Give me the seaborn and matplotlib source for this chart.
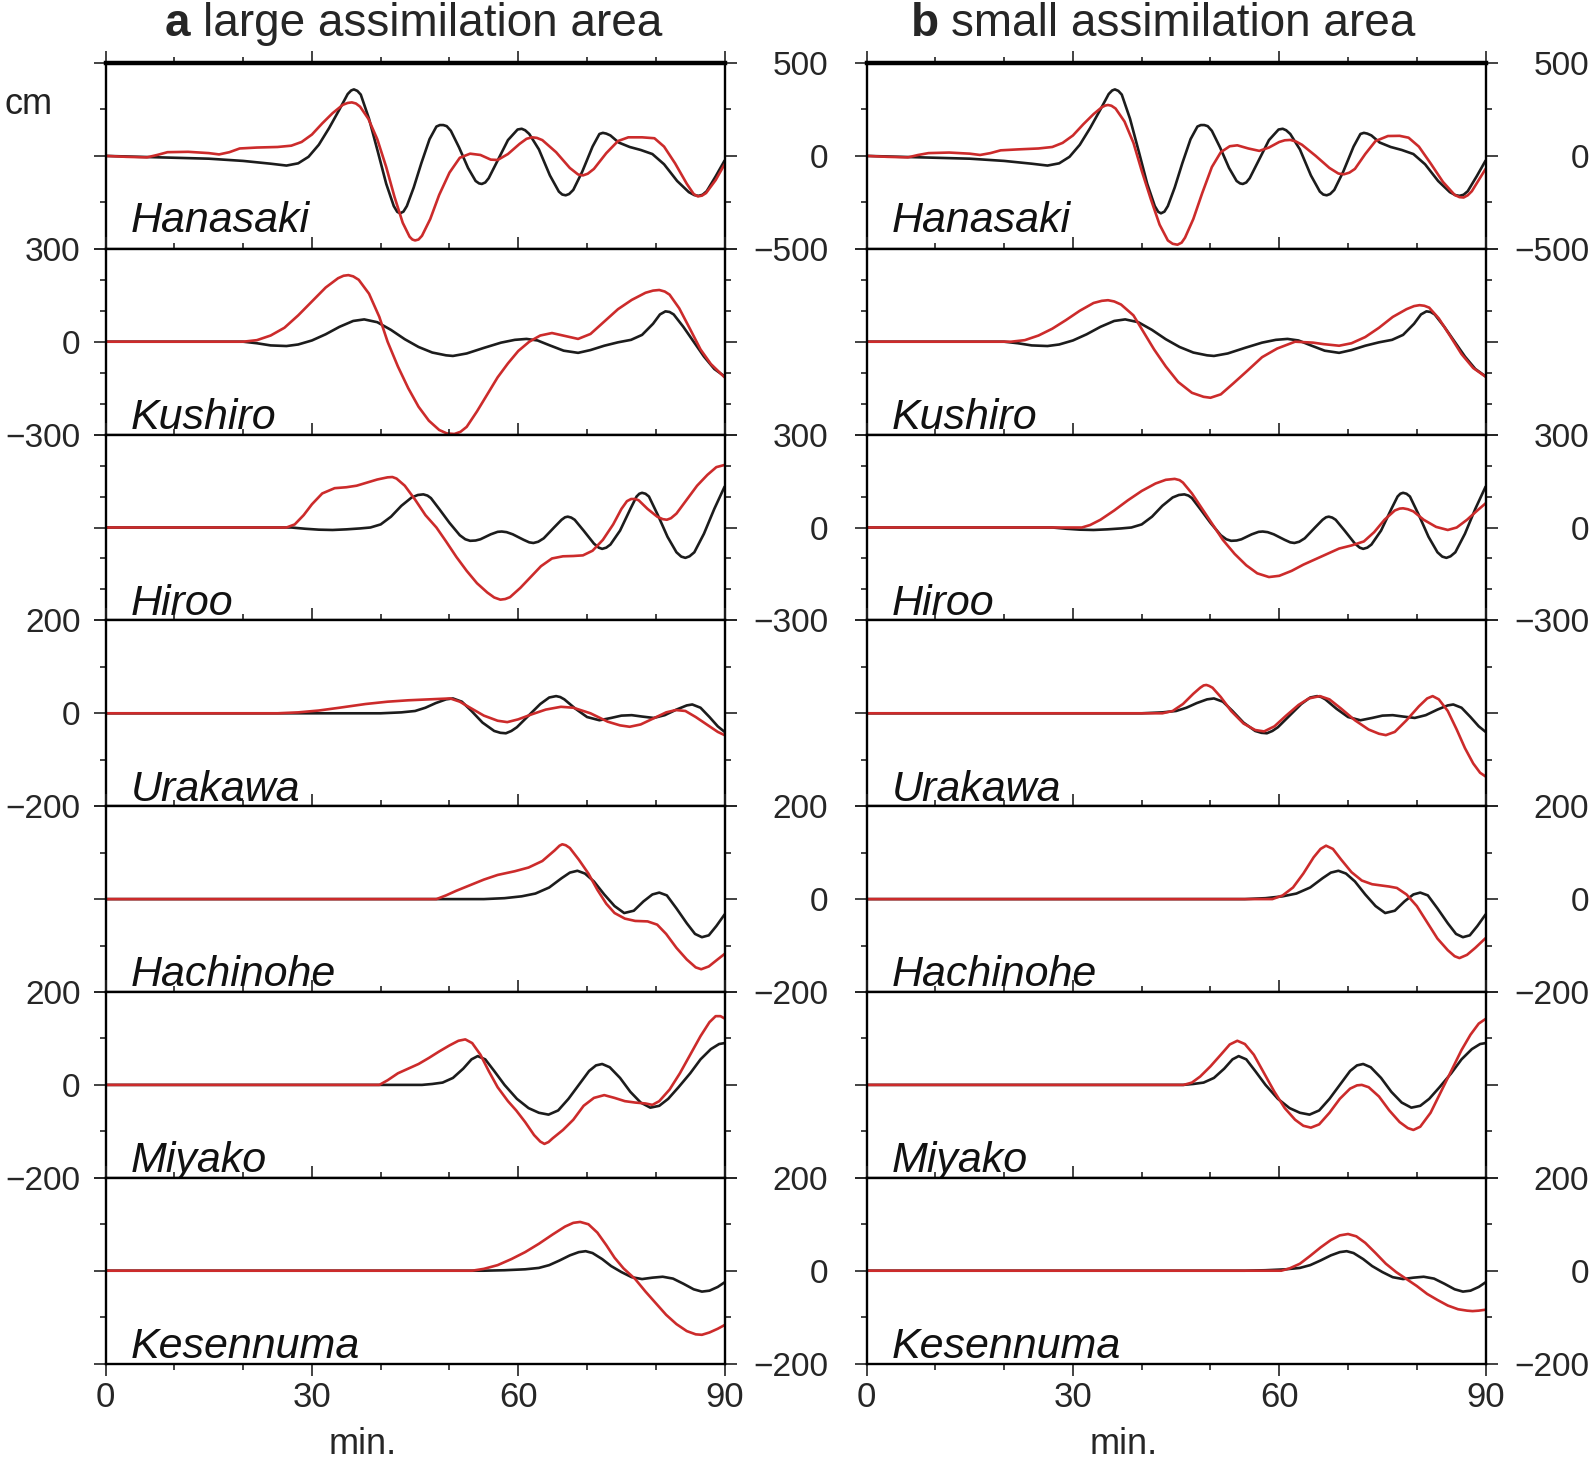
import numpy as np
import pandas as pd
import matplotlib
matplotlib.use("Agg")
import matplotlib.pyplot as plt
from matplotlib.ticker import FixedLocator
import seaborn as sns

# tide gauge stations, top to bottom
stations = ["Hanasaki", "Kushiro", "Hiroo", "Urakawa", "Hachinohe", "Miyako", "Kesennuma"]
y_range = [500, 300, 300, 200, 200, 200, 200]
y_minor = [[-250, 250], [-200, -100, 100, 200], [-200, -100, 100, 200],
           [-100, 100], [-100, 100], [-100, 100], [-100, 100]]
panel_titles = [("a", "large assimilation area"), ("b", "small assimilation area")]
x_major = [0, 30, 60, 90]
x_minor = [10, 20, 40, 50, 70, 80]

# (minutes, cm); obs = black, large/small = red
hanasaki_obs = [(0, 0), (5, -5), (10, -10), (15, -15), (20, -27), (24, -42), (26.3, -52), (28, -40), (29.5, -5),
                (31, 60), (32.5, 150), (34, 250), (35.2, 333), (35.7, 352), (36.1, 358), (36.6, 350),
                (37.1, 330), (38.3, 200), (39.6, 20), (40.8, -150), (41.9, -270), (42.4, -301), (42.8, -309),
                (43.3, -300), (43.8, -270), (44.8, -170), (45.9, -40), (47.1, 90), (48.1, 158), (48.6, 166),
                (49.1, 166), (49.6, 160), (50.2, 135), (51.4, 45), (52.7, -65), (53.8, -135), (54.3, -148),
                (54.7, -151), (55.2, -143), (55.7, -120), (57, -25), (58.5, 85), (59.9, 142), (60.5, 146),
                (61, 138), (61.6, 118), (63, 35), (64.6, -105), (65.9, -192), (66.4, -208), (66.9, -212),
                (67.4, -205), (68, -183), (69.3, -85), (70.8, 50), (71.8, 118), (72.3, 124), (72.8, 120),
                (73.4, 110), (74.6, 72), (76.2, 48), (77.8, 32), (79.5, 10), (81.2, -45), (83.1, -135),
                (84.8, -195), (85.6, -211), (86.2, -215), (86.8, -209), (87.4, -190), (88.7, -110), (90, -25)]
hanasaki_large = [(0, 0), (3, -5), (6, -8), (7.5, 5), (9, 20), (12, 22), (15, 15), (16.5, 8), (18, 20),
                  (19.5, 40), (22, 45), (25, 48), (27, 55), (28.5, 75), (30, 115), (31.5, 175), (33, 230),
                  (34.5, 275), (35.2, 285), (35.8, 288), (36.4, 282), (37, 265), (38.2, 200), (39.5, 90),
                  (40.8, -60), (42, -220), (43.2, -360), (44.2, -435), (44.6, -450), (45, -455), (45.5, -450),
                  (46, -430), (47.2, -340), (48.5, -210), (50, -90), (51.5, -10), (53, 12), (54.5, 5), (56, -20),
                  (57, -22), (58.5, 10), (60.2, 65), (61.2, 92), (62, 100), (62.7, 97), (63.5, 85), (65.5, 20),
                  (67.5, -65), (68.7, -100), (69.4, -105), (70.1, -96), (71, -70), (72.8, 15), (74.5, 80),
                  (76, 100), (78, 100), (79.8, 95), (81.2, 50), (82.8, -40), (84.5, -150), (85.5, -205),
                  (86.1, -218), (86.7, -214), (87.3, -200), (88.7, -130), (90, -45)]
hanasaki_small = [(0, 0), (3, -5), (6, -8), (7.5, 5), (9, 15), (12, 18), (15, 12), (16.5, 5), (18, 15),
                  (19.5, 30), (22, 35), (25, 40), (27, 48), (28.5, 70), (30, 110), (31.5, 170), (33, 225),
                  (34.2, 262), (34.7, 271), (35.1, 274), (35.6, 270), (36.2, 255), (37.5, 185), (38.8, 70),
                  (40, -80), (41.3, -230), (42.6, -370), (43.8, -455), (44.5, -473), (45.2, -478),
                  (45.8, -467), (46.3, -440), (47.5, -340), (48.8, -200), (50.2, -60), (51.5, 20), (52.8, 52),
                  (53.9, 57), (55.5, 40), (57.1, 27), (58.5, 45), (60, 75), (60.8, 84), (61.6, 86), (62.4, 78),
                  (63.3, 60), (65.3, 0), (67.3, -65), (68.6, -95), (69.4, -99), (70.2, -90), (71, -70),
                  (72.5, 10), (74, 80), (75.8, 107), (77.5, 108), (78.8, 98), (80.3, 50), (82, -40),
                  (83.8, -140), (85.5, -210), (86.2, -222), (86.8, -224), (87.4, -212), (88, -190),
                  (89, -130), (90, -70)]

kushiro_obs = [(0, 0), (20, 0), (22, -5), (24, -12), (26.3, -14), (28, -9), (30, 4), (32, 24), (34, 48),
               (36, 67), (37.6, 72), (39.5, 63), (41.5, 38), (43.5, 8), (45.5, -17), (47.5, -35), (49.5, -44),
               (50.5, -46), (52.5, -38), (55, -20), (57.5, -3), (59.5, 6), (61.2, 9), (62.8, 4), (64.6, -12),
               (66.6, -29), (68.7, -36), (70.5, -27), (72.5, -13), (74.5, -2), (76.4, 6), (78, 22),
               (79.6, 58), (80.6, 88), (81.4, 98), (82, 96), (82.6, 88), (84, 48), (85.5, 0), (87, -48),
               (88.5, -88), (90, -112)]
kushiro_large = [(0, 0), (20, 0), (22, 5), (24, 20), (26, 45), (28, 85), (30, 130), (32, 175), (33.8, 205),
                 (34.6, 213), (35.3, 215), (36, 211), (36.8, 200), (38.3, 155), (39.8, 80), (41, 0),
                 (42.5, -80), (44, -150), (45.5, -210), (47, -255), (48.5, -285), (49.6, -296), (50.7, -298),
                 (51.6, -291), (52.5, -275), (54, -225), (55.5, -170), (57, -115), (58.5, -70), (60, -30),
                 (61.6, 0), (63.2, 20), (64.9, 28), (66.5, 20), (68.7, 9), (70.5, 25), (72.5, 65), (74.5, 105),
                 (76.5, 135), (78.5, 158), (79.6, 165), (80.5, 167), (81.3, 162), (82, 152), (83.4, 108),
                 (85, 40), (86.5, -25), (88, -72), (90, -115)]
kushiro_small = [(0, 0), (21, 0), (23, 5), (25, 20), (27, 42), (29, 70), (31, 100), (33, 125), (34.2, 132),
                 (35.1, 134), (36, 130), (37, 120), (38.8, 85), (40.3, 30), (41.8, -25), (43.5, -80),
                 (45.3, -130), (47.3, -165), (49, -178), (50, -181), (51.5, -170), (53.3, -135), (55.3, -95),
                 (57.5, -50), (59.7, -22), (62.3, 0), (64.9, -3), (66.5, -8), (68.7, -13), (70.5, -5),
                 (72.5, 15), (74.5, 45), (76.5, 80), (78.5, 105), (79.6, 115), (80.4, 118), (81.1, 116),
                 (81.8, 110), (83.2, 75), (84.8, 20), (86.5, -40), (88.2, -85), (90, -113)]

hiroo_obs = [(0, 0), (27, 0), (29, -4), (31, -7), (33, -8), (35, -6), (37, -3), (38.5, 0), (40, 10),
             (41.5, 35), (43, 70), (44.5, 97), (45.4, 105), (46.2, 107), (46.8, 103), (47.3, 95), (48.5, 60),
             (50, 15), (51.5, -25), (52.3, -38), (53, -43), (53.8, -42), (54.5, -38), (56, -22), (57, -14),
             (57.6, -13), (58.3, -15), (59.2, -22), (60.8, -40), (61.6, -48), (62.2, -50), (62.9, -46),
             (63.7, -35), (65.2, 0), (66.3, 25), (66.8, 33), (67.2, 35), (67.7, 32), (68.2, 25), (69.5, -10),
             (71, -52), (71.7, -65), (72.2, -69), (72.8, -65), (73.4, -55), (74.8, -10), (76.3, 60),
             (77.2, 100), (77.6, 109), (78, 112), (78.5, 109), (79, 100), (80.3, 40), (81.7, -30), (83, -80),
             (83.7, -94), (84.3, -98), (84.9, -93), (85.6, -80), (87, -20), (88.5, 60), (90, 132)]
hiroo_large = [(0, 0), (26.3, 0), (27.5, 10), (28.8, 40), (30, 75), (31.5, 110), (33.3, 127), (35, 130),
               (36.5, 135), (38, 145), (39.5, 155), (41, 162), (41.7, 163), (42.3, 158), (43.5, 135), (45, 90),
               (46.5, 40), (48.1, 0), (49.5, -45), (51, -95), (52.5, -140), (54, -180), (55.5, -210),
               (56.5, -226), (57.4, -233), (58.1, -231), (58.8, -225), (60.3, -195), (61.8, -160),
               (63.3, -125), (64.9, -100), (66.5, -93), (68, -92), (69.4, -90), (70.8, -75), (72.3, -40),
               (73.8, 10), (75, 60), (75.8, 85), (76.4, 92), (77, 92), (77.5, 88), (78.8, 60), (80.2, 35),
               (81, 27), (81.6, 25), (82.2, 30), (83, 45), (84.5, 90), (86, 135), (87.5, 170), (88.8, 195),
               (90, 202)]
hiroo_small = [(0, 0), (31.3, 0), (32.5, 8), (34, 25), (36, 55), (38, 88), (40, 118), (42, 142), (43.5, 154),
               (44.8, 157), (45.5, 153), (46, 145), (47.3, 110), (48.8, 60), (50.3, 10), (51.8, -40),
               (53.5, -85), (55.2, -122), (56.8, -148), (58.5, -160), (60, -156), (61.8, -140), (63.5, -120),
               (65.5, -100), (67.3, -82), (68.7, -68), (70.5, -58), (72.3, -45), (73.8, -15), (75.3, 25),
               (76.8, 55), (77.5, 61), (78, 62), (78.7, 59), (79.5, 52), (81, 25), (82.8, 2), (84.5, -8),
               (85.8, 0), (87.3, 25), (88.8, 55), (90, 78)]

urakawa_obs = [(0, 0), (40, 0), (43, 2), (45, 5), (46.5, 12), (48, 22), (49.5, 30), (50.5, 32), (51.8, 25),
               (53.2, 5), (54.8, -20), (56.5, -38), (57.4, -42), (58.2, -43), (59, -38), (59.8, -30),
               (61.5, -5), (63.2, 20), (64.5, 34), (65.5, 37), (66.1, 35), (66.7, 30), (68.3, 10), (70, -8),
               (71.8, -15), (73.5, -10), (75, -5), (76.5, -4), (78, -7), (79.7, -10), (81.3, -4), (83, 8),
               (84.5, 17), (85.3, 19), (86.5, 12), (87.8, -8), (89, -28), (90, -40)]
urakawa_large = [(0, 0), (25, 0), (28, 2), (31, 6), (34, 12), (37.8, 20), (41, 25), (44, 28), (47, 30),
                 (50.1, 32), (51.5, 25), (53, 12), (55, -5), (57, -16), (58.4, -19), (60, -13), (62, -2),
                 (64, 8), (66.2, 14), (68, 12), (70.5, 0), (73, -18), (74.8, -26), (76.2, -29), (77.8, -24),
                 (79.8, -10), (81.5, 2), (82.9, 7), (84.3, 5), (85.8, -8), (87.5, -25), (89, -40), (90, -47)]
urakawa_small = [(0, 0), (43, 0), (44.5, 5), (46, 20), (47.5, 42), (48.5, 55), (49, 60), (49.4, 61),
                 (49.8, 59), (50.3, 55), (51.5, 35), (53, 5), (54.8, -22), (56.5, -36), (57.8, -39),
                 (59.3, -28), (61, -5), (62.8, 18), (64.3, 32), (65.9, 37), (67.3, 30), (69, 10), (71, -15),
                 (73, -35), (74.5, -44), (75.5, -47), (76.8, -40), (78.5, -15), (80.3, 15), (81.5, 32),
                 (82.3, 37), (83.2, 30), (84.5, 5), (85.8, -35), (87, -75), (88.2, -108), (89.2, -128),
                 (90, -136)]

hachinohe_obs = [(0, 0), (48, 0), (55, 0), (58, 2), (60.5, 6), (62.5, 12), (64.5, 25), (66.3, 45), (67.5, 57),
                 (68.6, 61), (69.7, 55), (71, 38), (72.5, 10), (74, -15), (75.4, -30), (76.8, -25),
                 (78.2, -5), (79.5, 10), (80.5, 14), (81.6, 8), (83, -20), (84.5, -52), (85.7, -75),
                 (86.7, -82), (87.7, -78), (88.8, -58), (90, -33)]
hachinohe_large = [(0, 0), (48.1, 0), (49.5, 8), (51, 18), (53, 30), (55, 42), (57, 52), (59.5, 60),
                   (61.5, 68), (63.5, 82), (65.3, 105), (66, 115), (66.4, 118), (66.9, 116), (67.5, 110),
                   (68.8, 85), (70.2, 55), (71.5, 20), (72.8, -10), (74, -30), (75.5, -42), (77, -47),
                   (78.8, -48), (80.2, -55), (81.5, -75), (83, -105), (84.5, -130), (85.8, -147), (86.6, -151),
                   (87.7, -145), (88.8, -132), (90, -118)]
hachinohe_small = [(0, 0), (59, 0), (60.5, 8), (62, 25), (63.5, 55), (65, 90), (66, 108), (66.8, 115),
                   (67.8, 108), (69, 85), (70.5, 58), (72, 40), (73.5, 32), (74.5, 30), (76, 27), (77.1, 24),
                   (78.5, 10), (80, -15), (81.5, -50), (83, -85), (84.5, -110), (85.5, -123), (86.2, -127),
                   (87.3, -120), (88.5, -105), (90, -84)]

miyako_obs = [(0, 0), (46, 0), (47.5, 2), (49, 5), (50.5, 15), (52, 35), (53.2, 55), (54.1, 62), (55.2, 55),
              (56.5, 30), (58, 0), (59.8, -30), (61.5, -50), (63, -60), (64.4, -64), (65.8, -55), (67.3, -30),
              (68.8, 0), (70.3, 30), (71.3, 42), (72.2, 45), (73.3, 38), (74.8, 15), (76.3, -15), (77.8, -38),
              (79.2, -49), (80.5, -45), (81.8, -30), (83.3, -5), (85, 25), (86.5, 55), (88, 77), (89.2, 88),
              (90, 90)]
miyako_large = [(0, 0), (39.8, 0), (41, 10), (42.5, 25), (44, 35), (45.5, 45), (47, 58), (48.5, 72), (50, 85),
                (51.3, 95), (52.3, 98), (53.3, 90), (54.5, 65), (55.7, 30), (57, -5), (58.5, -35), (59.7, -55),
                (61, -80), (62.3, -108), (63.2, -122), (63.8, -127), (64.4, -123), (65, -115), (66.5, -97),
                (68, -75), (69.5, -45), (71, -28), (72.5, -22), (74, -28), (75.5, -35), (77, -38), (78.5, -40),
                (79.5, -43), (80.5, -35), (82, -10), (83.5, 25), (85, 65), (86.5, 105), (87.8, 135),
                (88.7, 148), (89.4, 148), (90, 143)]
miyako_small = [(0, 0), (46.1, 0), (47.3, 5), (48.5, 18), (50, 40), (51.5, 65), (52.8, 87), (53.9, 95),
                (55, 88), (56.3, 65), (57.8, 25), (59.3, -15), (60.8, -50), (62.3, -75), (63.5, -88),
                (64.6, -92), (65.8, -85), (67.3, -60), (68.8, -30), (70.3, -8), (71.3, -1), (72, 0), (73, -5),
                (74.5, -25), (76, -55), (77.5, -80), (78.7, -93), (79.5, -97), (80.5, -90), (82, -60),
                (83.5, -15), (85, 30), (86.5, 75), (87.8, 108), (89, 132), (90, 142)]

kesennuma_obs = [(0, 0), (55, 0), (58, 1), (61, 3), (63, 6), (64.5, 12), (66, 22), (67.5, 33), (68.8, 40),
                 (69.8, 42), (70.8, 38), (72.2, 25), (73.5, 10), (75, -3), (76.5, -14), (78, -18), (79.5, -15),
                 (81, -13), (82.5, -17), (84, -28), (85.5, -40), (86.7, -45), (87.8, -43), (89, -35), (90, -25)]
kesennuma_large = [(0, 0), (53.3, 0), (55, 4), (57, 12), (59, 25), (61, 40), (63, 58), (65, 78), (66.8, 95),
                   (68, 103), (69, 105), (70.2, 100), (71.5, 82), (72.8, 55), (74, 28), (75.3, 5), (77, -18),
                   (78.5, -45), (80, -70), (81.5, -95), (83, -115), (84.5, -130), (85.8, -137), (86.7, -138),
                   (87.8, -133), (89, -125), (90, -117)]
kesennuma_small = [(0, 0), (60.3, 0), (61.5, 5), (63, 15), (64.5, 32), (66, 50), (67.5, 66), (68.8, 76),
                   (70, 79), (71.2, 74), (72.5, 60), (74, 38), (75.5, 15), (77, -3), (78.5, -18), (80, -33),
                   (81.5, -50), (83, -63), (84.5, -75), (86, -83), (87.3, -86), (88.1, -87), (89, -86),
                   (90, -84)]

observed = [hanasaki_obs, kushiro_obs, hiroo_obs, urakawa_obs, hachinohe_obs, miyako_obs, kesennuma_obs]
large = [hanasaki_large, kushiro_large, hiroo_large, urakawa_large, hachinohe_large, miyako_large, kesennuma_large]
small = [hanasaki_small, kushiro_small, hiroo_small, urakawa_small, hachinohe_small, miyako_small, kesennuma_small]

sns.set_style("ticks")
plt.rcParams["font.family"] = ["Liberation Sans", "DejaVu Sans"]
plt.rcParams["axes.unicode_minus"] = True
plt.rcParams["lines.solid_joinstyle"] = "round"
plt.rcParams["lines.solid_capstyle"] = "round"

W, H = 1593, 1464
fig = plt.figure(figsize=(W / 100, H / 100), dpi=100)

lefts = [105.6, 866.6]
panel_w = 619.0
top0 = 63.0
panel_h = 185.8
colors = {"obs": "#1c1c1c", "sim": "#cc2b2b"}

for col, sims in enumerate([large, small]):
    for row, name in enumerate(stations):
        ax = fig.add_axes([lefts[col] / W, 1 - (top0 + (row + 1) * panel_h) / H, panel_w / W, panel_h / H])
        df = pd.concat([
            pd.DataFrame(observed[row], columns=["t", "cm"]).assign(kind="obs"),
            pd.DataFrame(sims[row], columns=["t", "cm"]).assign(kind="sim"),
        ])
        sns.lineplot(data=df, x="t", y="cm", hue="kind", palette=colors, estimator=None, sort=False,
                     linewidth=1.9, legend=False, ax=ax)
        r = y_range[row]
        ax.set_xlim(0, 90)
        ax.set_ylim(-r, r)
        ax.set_xlabel("")
        ax.set_ylabel("")

        ax.xaxis.set_major_locator(FixedLocator(x_major))
        ax.xaxis.set_minor_locator(FixedLocator(x_minor))
        ax.yaxis.set_major_locator(FixedLocator([-r, 0, r]))
        ax.yaxis.set_minor_locator(FixedLocator(y_minor[row]))
        ax.tick_params(which="both", direction="out", top=True, bottom=True, left=True, right=True,
                       width=1.2, color="#222222")
        ax.tick_params(which="major", length=8.5)
        ax.tick_params(which="minor", length=4.5)
        ax.tick_params(axis="x", labelbottom=(row == 6), labeltop=False, labelsize=25, pad=4)

        labels_right = row % 2 == 0
        labels_left = (not labels_right) and col == 0
        ax.tick_params(axis="y", labelsize=24, labelleft=labels_left, labelright=labels_right)
        if labels_right:
            ax.tick_params(axis="y", which="major", pad=66)
            for tk in ax.yaxis.get_major_ticks():
                tk.label2.set_horizontalalignment("right")
        else:
            ax.tick_params(axis="y", which="major", pad=9.5)

        for s in ax.spines.values():
            s.set_linewidth(1.7)
            s.set_color("black")
        if row == 0:
            ax.spines["top"].set_linewidth(3.2)

        ax.text(0.04, 0.093 if row == 0 else 0.03, name, transform=ax.transAxes, fontsize=31,
                fontstyle="italic", ha="left", va="baseline", color="#111111")

        if row == 6:
            ax.set_xlabel("min.", fontsize=26)
            ax.xaxis.set_label_coords(0.415, -0.34)

# panel titles
fig.text(165 / W, 1 - 36 / H, panel_titles[0][0], fontsize=33, fontweight="bold", ha="left", va="baseline")
fig.text(203 / W, 1 - 36 / H, panel_titles[0][1], fontsize=33, ha="left", va="baseline")
fig.text(911 / W, 1 - 36 / H, panel_titles[1][0], fontsize=33, fontweight="bold", ha="left", va="baseline")
fig.text(951 / W, 1 - 36 / H, panel_titles[1][1], fontsize=33, ha="left", va="baseline")
fig.text(5 / W, 1 - 105 / H, "cm", fontsize=26, ha="left", va="center", color="#222222")

fig.savefig("out.png", dpi=100)
